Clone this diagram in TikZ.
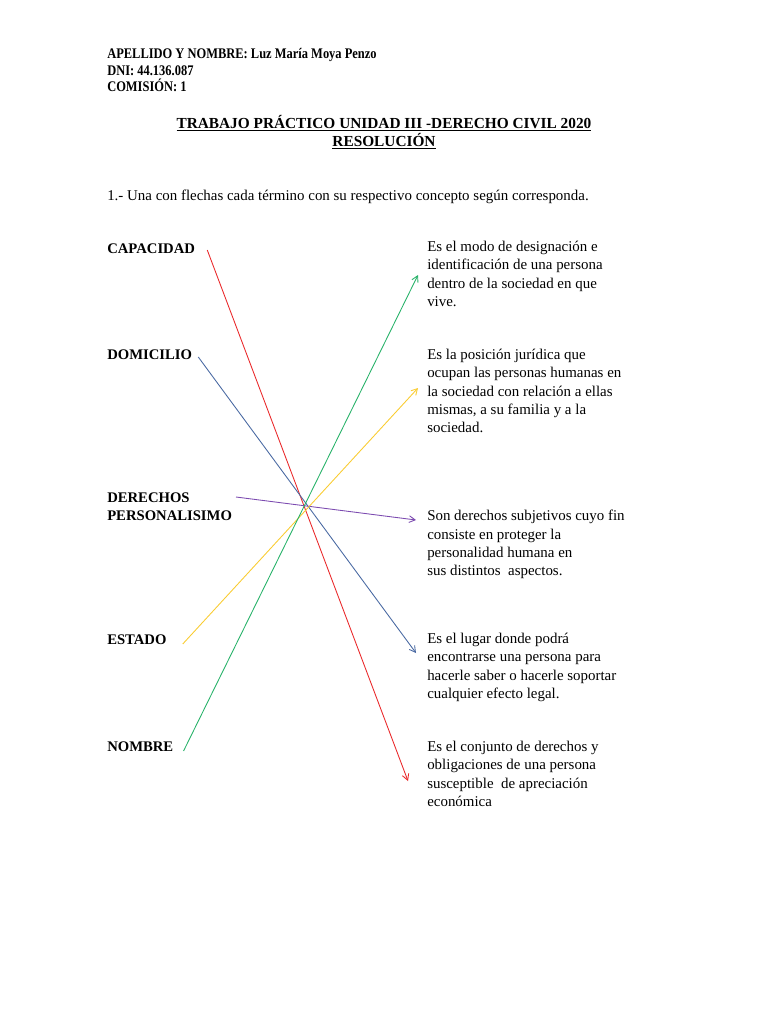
\documentclass[tikz,border=0pt]{standalone}
\usepackage{fontspec}
\usepackage{graphicx}
\setmainfont{Liberation Serif}
\usetikzlibrary{arrows.meta}

\definecolor{linkRed}{RGB}{234,40,42}
\definecolor{linkBlue}{RGB}{72,104,162}
\definecolor{linkPurple}{RGB}{124,74,176}
\definecolor{linkYellow}{RGB}{250,204,48}
\definecolor{linkGreen}{RGB}{38,178,104}

\tikzset{
  header/.style={anchor=base west, inner sep=0pt, font=\bfseries\fontsize{11}{12}\selectfont},
  term/.style={anchor=base west, inner sep=0pt, font=\bfseries\fontsize{11}{13.5}\selectfont},
  concept/.style={anchor=north west, inner sep=0pt, align=left, font=\fontsize{11.2}{13.7}\selectfont},
  link/.style={line width=0.65pt, -{Straight Barb[length=4.5pt,width=5pt]}}
}

\begin{document}
\begin{tikzpicture}[x=0.75pt,y=-0.75pt]
\useasboundingbox[fill=white] (0,0) rectangle (768,1024);

% header
\node[header] (apellido) at (107,59) {\scalebox{0.85}[1]{APELLIDO Y NOMBRE: Luz María Moya Penzo}};
\node[header] (dni) at (107,75) {\scalebox{0.85}[1]{DNI: 44.136.087}};
\node[header] (comision) at (107,91) {\scalebox{0.85}[1]{COMISIÓN: 1}};

\node[inner sep=0pt, align=center, font=\bfseries\fontsize{11.5}{13.5}\selectfont] (titulo) at (384,132)
  {\underline{TRABAJO PRÁCTICO UNIDAD III -DERECHO CIVIL 2020}\\\underline{RESOLUCIÓN}};

\node[anchor=base west, inner sep=0pt, font=\fontsize{11.2}{13.5}\selectfont] (consigna) at (107,200)
  {1.- Una con flechas cada término con su respectivo concepto según corresponda.};

% terminos
\node[term] (capacidad) at (107,253) {CAPACIDAD};
\node[term] (domicilio) at (107,359) {DOMICILIO};
\node[term, align=left, anchor=north west] (derechos) at (107,493) {DERECHOS\\PERSONALISIMO};
\node[term] (estado) at (107,644) {ESTADO};
\node[term] (nombre) at (107,751) {NOMBRE};

% conceptos
\node[concept] (c1) at (427,241) {Es el modo de designación e\\identificación de una persona\\dentro de la sociedad en que\\vive.};
\node[concept] (c2) at (427,349) {Es la posición jurídica que\\ocupan las personas humanas en\\la sociedad con relación a ellas\\mismas, a su familia y a la\\sociedad.};
\node[concept] (c3) at (427,510) {Son derechos subjetivos cuyo fin\\consiste en proteger la\\personalidad humana en\\sus distintos\ \ aspectos.};
\node[concept] (c4) at (427,633) {Es el lugar donde podrá\\encontrarse una persona para\\hacerle saber o hacerle soportar\\cualquier efecto legal.};
\node[concept] (c5) at (427,741) {Es el conjunto de derechos y\\obligaciones de una persona\\susceptible\ \ de apreciación\\económica};

% flechas
\draw[link, linkRed] ([shift={(12,-3)}]capacidad.base east) -- ([shift={(-19,40)}]c5.north west);
\draw[link, linkBlue] ([shift={(6,-2)}]domicilio.base east) -- ([shift={(-11,20)}]c4.north west);
\draw[link, linkPurple] ([shift={(129,4)}]derechos.north west) -- ([shift={(-11,10)}]c3.north west);
\draw[link, linkYellow] ([shift={(16,0)}]estado.base east) -- ([shift={(-9,39)}]c2.north west);
\draw[link, linkGreen] ([shift={(10,0)}]nombre.base east) -- ([shift={(-9,34)}]c1.north west);
\end{tikzpicture}
\end{document}
